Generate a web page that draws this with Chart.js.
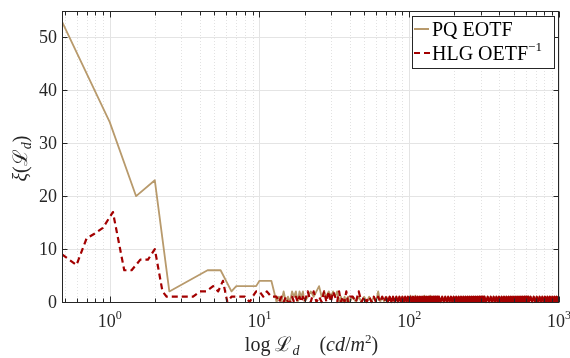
<!DOCTYPE html>
<html>
<head>
<meta charset="utf-8">
<script src="https://cdn.jsdelivr.net/npm/chart.js@4/dist/chart.umd.min.js"></script>
<style>
  html, body { margin: 0; padding: 0; background: #fff; }
</style>
</head>
<body>
<canvas id="xiChart" width="570" height="358"></canvas>
<script>
/* ---------- DATA ---------- */
const seriesNames = ["PQ EOTF", "HLG OETF"];

// low-luminance part
const pqX = [0.48, 1, 1.5, 2, 2.5, 4.5, 5.5, 6.5, 7, 9.5, 10, 12];
const pqY = [53, 34, 20, 23, 2, 6, 6, 2, 3, 3, 4, 4];

const hlgX = [0.48, 0.6, 0.7, 0.8, 0.9, 1.05, 1.25, 1.4, 1.6, 1.8, 2, 2.25, 2.4, 3, 3.6, 4, 4.4, 4.9, 5.3, 5.7, 6.1, 6.5, 7, 7.5, 8, 8.6, 9, 9.5, 10, 10.6, 11.2, 12];
const hlgY = [9, 7, 12, 13, 14, 17, 6, 6, 8, 8, 10, 2, 1, 1, 1, 2, 2, 3, 2, 4, 0, 1, 1, 1, 1, 0, 1, 2, 2, 1, 2, 1];

// high-luminance part: both curves flicker between 0 and 2
const noiseX = [
  12.5, 13, 13.5, 14, 14.5, 15, 15.5, 16, 16.5, 17, 17.5, 18, 18.5, 19, 19.5, 20,
  21, 22, 23, 24, 25, 26, 27, 28, 29, 30, 31, 32, 33, 34, 35, 36, 37, 38, 39, 40,
  42, 44, 46, 48, 50, 52, 54, 56, 58, 60, 62, 64, 66, 68, 70, 72, 74, 76, 78, 80,
  82, 84, 86, 88, 90, 92, 94, 96, 98, 100, 102, 104, 106, 108, 110, 112, 114, 116, 118, 120,
  122, 124, 126, 128, 130, 132, 134, 136, 138, 140, 142, 144, 146, 148, 150, 152, 154, 156, 158,
  162, 166, 170, 174, 178, 182, 186, 190, 194, 198, 202, 206, 210, 214, 218, 222, 226, 230, 234, 238,
  242, 246, 250, 254, 258, 262, 266, 270, 274, 278, 282, 286, 290, 294, 298, 302, 306, 310, 314, 318,
  326, 334, 342, 350, 358, 366, 374, 382, 390, 398, 406, 414, 422, 430, 438, 446, 454, 462, 470, 478,
  486, 494, 502, 510, 518, 526, 534, 542, 550, 558, 566, 574, 582, 590, 598, 606, 614, 622, 630,
  646, 662, 678, 694, 710, 726, 742, 758, 774, 790, 806, 822, 838, 854, 870, 886, 902, 918, 934, 950,
  966, 982, 998, 1000
];
const pqNoise = [
  2, 0, 1, 0, 2, 0, 1, 0, 2, 1, 2, 0, 2, 1, 2, 0,
  1, 2, 1, 2, 3, 1, 2, 1, 2, 1, 2, 1, 2, 0, 1, 0, 1, 0, 1, 0,
  1, 0, 1, 0, 1, 0, 1, 0, 1, 0, 2, 0, 1, 0, 1, 0, 1, 0, 1, 0,
  1, 0, 1, 0, 1, 0, 1, 0, 1, 0, 1.2, 0, 1, 0, 1.2, 0, 1, 0, 1, 0,
  1, 0, 1.2, 0, 1, 0, 1, 0, 1.2, 0, 1, 0, 1, 0, 1, 0, 1, 0, 1, 0,
  1, 0, 1, 0, 1, 0, 1, 0, 1, 0, 1, 0, 1, 0, 1, 0, 1, 0, 1, 0,
  1, 0, 1, 0, 1, 0, 1, 0, 1, 0, 1, 0, 1, 0, 1, 0, 1, 0, 1, 0,
  1, 0, 1, 0, 1, 0, 1, 0, 1, 0, 1, 0, 1, 0, 1, 0, 1, 0, 1, 0,
  1, 0, 1, 0, 1, 0, 1, 0, 1, 0, 1, 0, 1, 0, 1, 0, 1, 0, 1, 0,
  1, 0, 1, 0, 1, 0, 1, 0, 1, 0, 1, 0, 1, 0, 1, 0, 1, 0, 1, 0,
  1, 0
];
const hlgNoise = [
  1, 1, 0, 1, 0, 1, 0, 0, 1, 0, 1, 0, 1, 0, 1, 0,
  2, 0, 2, 0, 1, 0, 2, 0, 2, 0, 2, 1, 0, 2, 0, 1, 0, 2, 0, 1,
  1, 0, 2, 0, 1, 0, 1, 0, 1, 0, 1, 0, 1, 0, 1, 0, 1, 0, 1, 0,
  1, 0, 1, 0, 1, 0, 1, 0, 1, 0, 1, 0, 1, 0, 1, 0, 1, 0, 1, 0,
  1, 0, 1, 0, 1, 0, 1, 0, 1, 0, 1, 0, 1, 0, 1, 0, 1, 0, 1, 0,
  1, 0, 1, 0, 1, 0, 1, 0, 1, 0, 1, 0, 1, 0, 1, 0, 1, 0, 1, 0,
  1, 0, 1, 0, 1, 0, 1, 0, 1, 0, 1, 0, 1, 0, 1, 0, 1, 0, 1, 0,
  1, 0, 1, 0, 1, 0, 1, 0, 1, 0, 1, 0, 1, 0, 1, 0, 1, 0, 1, 0,
  1, 0, 1, 0, 1, 0, 1, 0, 1, 0, 1, 0, 1, 0, 1, 0, 1, 0, 1, 0,
  1, 0, 1, 0, 1, 0, 1, 0, 1, 0, 1, 0, 1, 0, 1, 0, 1, 0, 1, 0,
  1, 0
];

// ticks
const xMajorTicks = [1, 10, 100, 1000];
const xTickExponents = ["0", "1", "2", "3"];
const yTicks = [0, 10, 20, 30, 40, 50];

/* ---------- STYLE ---------- */
const PQ_COLOR = "#b89a6c";
const HLG_COLOR = "#a30000";
const AXIS_COLOR = "#262626";
const SERIF = "'Liberation Serif', 'DejaVu Serif', serif";
const HLG_DASH = [6, 4];

const toPoints = (xs, ys) => xs.map((x, i) => ({ x, y: ys[i] }));

const xMinorTicks = [];
[0.1, 1, 10, 100].forEach(d => {
    for (let m = 2; m <= 9; m++) xMinorTicks.push(d * m);
});

/* ---------- TEXT HELPERS ---------- */
// runs: [{t, f (font), dy}]
function runsWidth(ctx, runs) {
    return runs.reduce((w, r) => { ctx.font = r.f; return w + ctx.measureText(r.t).width; }, 0);
}
function drawRuns(ctx, runs, x, y) {
    runs.forEach(r => {
        ctx.font = r.f;
        ctx.fillText(r.t, x, y + (r.dy || 0));
        x += ctx.measureText(r.t).width;
    });
}

/* ---------- MATLAB-LIKE AXES ---------- */
const axesPlugin = {
    id: "matlabAxes",
    beforeDatasetsDraw(chart) {
        const { ctx, chartArea: a, scales: { x, y } } = chart;
        ctx.save();
        ctx.lineWidth = 1;

        // minor x grid (dotted)
        ctx.strokeStyle = "#e2e2e2";
        ctx.setLineDash([1, 2]);
        xMinorTicks.forEach(v => {
            if (v < x.min || v > x.max) return;
            const px = Math.round(x.getPixelForValue(v)) + 0.5;
            ctx.beginPath(); ctx.moveTo(px, a.top); ctx.lineTo(px, a.bottom); ctx.stroke();
        });
        ctx.setLineDash([]);

        // major grid
        ctx.strokeStyle = "#e4e4e4";
        xMajorTicks.forEach(v => {
            const px = Math.round(x.getPixelForValue(v)) + 0.5;
            ctx.beginPath(); ctx.moveTo(px, a.top); ctx.lineTo(px, a.bottom); ctx.stroke();
        });
        yTicks.forEach(v => {
            const py = Math.round(y.getPixelForValue(v)) + 0.5;
            ctx.beginPath(); ctx.moveTo(a.left, py); ctx.lineTo(a.right, py); ctx.stroke();
        });
        ctx.restore();
    },
    afterDatasetsDraw(chart) {
        const { ctx, chartArea: a, scales: { x, y } } = chart;
        ctx.save();
        ctx.strokeStyle = AXIS_COLOR;
        ctx.fillStyle = AXIS_COLOR;
        ctx.lineWidth = 1;

        // box
        const L = Math.round(a.left) + 0.5, R = Math.round(a.right) - 0.5;
        const T = Math.round(a.top) + 0.5, B = Math.round(a.bottom) + 0.5;
        ctx.strokeRect(L, T, R - L, B - T);

        // inward ticks
        ctx.beginPath();
        xMinorTicks.forEach(v => {
            if (v < x.min || v > x.max) return;
            const px = Math.round(x.getPixelForValue(v)) + 0.5;
            ctx.moveTo(px, B); ctx.lineTo(px, B - 4);
            ctx.moveTo(px, T); ctx.lineTo(px, T + 4);
        });
        xMajorTicks.forEach(v => {
            const px = Math.round(x.getPixelForValue(v)) + 0.5;
            ctx.moveTo(px, B); ctx.lineTo(px, B - 6);
            ctx.moveTo(px, T); ctx.lineTo(px, T + 6);
        });
        yTicks.forEach(v => {
            const py = Math.round(y.getPixelForValue(v)) + 0.5;
            ctx.moveTo(L, py); ctx.lineTo(L + 5, py);
            ctx.moveTo(R, py); ctx.lineTo(R - 5, py);
        });
        ctx.stroke();

        // y tick labels
        ctx.font = "18px " + SERIF;
        ctx.textAlign = "right";
        ctx.textBaseline = "middle";
        yTicks.forEach(v => ctx.fillText(String(v), a.left - 5, y.getPixelForValue(v) + 1));

        // x tick labels 10^n
        ctx.textAlign = "left";
        ctx.textBaseline = "alphabetic";
        xMajorTicks.forEach((v, i) => {
            const runs = [
                { t: "10", f: "18px " + SERIF },
                { t: xTickExponents[i], f: "12px " + SERIF, dy: -8 }
            ];
            const w = runsWidth(ctx, runs);
            drawRuns(ctx, runs, x.getPixelForValue(v) - w / 2, a.bottom + 25);
        });

        // x axis title
        const xTitle = [
            { t: "log ", f: "20px " + SERIF },
            { t: "ℒ", f: "20px " + SERIF },
            { t: "d", f: "italic 14px " + SERIF, dy: 4 },
            { t: "    (", f: "20px " + SERIF },
            { t: "cd", f: "italic 20px " + SERIF },
            { t: "/", f: "20px " + SERIF },
            { t: "m", f: "italic 20px " + SERIF },
            { t: "2", f: "13px " + SERIF, dy: -8 },
            { t: ")", f: "20px " + SERIF }
        ];
        const xw = runsWidth(ctx, xTitle);
        drawRuns(ctx, xTitle, (a.left + a.right) / 2 - xw / 2 + 1, 351);

        // y axis title (rotated)
        const yTitle = [
            { t: "ξ", f: "italic 20px " + SERIF },
            { t: "(", f: "20px " + SERIF },
            { t: "ℒ", f: "20px " + SERIF },
            { t: "d", f: "italic 14px " + SERIF, dy: 4 },
            { t: ")", f: "20px " + SERIF }
        ];
        const yw = runsWidth(ctx, yTitle);
        ctx.save();
        ctx.translate(27, (a.top + a.bottom) / 2 + 2);
        ctx.rotate(-Math.PI / 2);
        drawRuns(ctx, yTitle, -yw / 2, 0);
        ctx.restore();

        // legend
        const lx = 412.5, ly = 16.5, lw = 142, lh = 52;
        ctx.fillStyle = "#fff";
        ctx.fillRect(lx, ly, lw, lh);
        ctx.strokeStyle = AXIS_COLOR;
        ctx.strokeRect(lx, ly, lw, lh);

        ctx.lineWidth = 2;
        ctx.strokeStyle = PQ_COLOR;
        ctx.beginPath(); ctx.moveTo(414, 29); ctx.lineTo(429, 29); ctx.stroke();
        ctx.strokeStyle = HLG_COLOR;
        ctx.setLineDash(HLG_DASH);
        ctx.beginPath(); ctx.moveTo(414, 53); ctx.lineTo(431, 53); ctx.stroke();
        ctx.setLineDash([]);

        ctx.fillStyle = "#000";
        drawRuns(ctx, [{ t: seriesNames[0], f: "20px " + SERIF }], 432, 36);
        drawRuns(ctx, [
            { t: seriesNames[1], f: "20px " + SERIF },
            { t: "−1", f: "13px " + SERIF, dy: -9 }
        ], 432, 60);

        ctx.restore();
    }
};

/* ---------- CHART ---------- */
new Chart(document.getElementById("xiChart"), {
    type: "line",
    data: {
        datasets: [
            {
                label: seriesNames[0],
                data: toPoints(pqX.concat(noiseX), pqY.concat(pqNoise)),
                borderColor: PQ_COLOR,
                borderWidth: 1.8,
                borderJoinStyle: "round",
                pointRadius: 0,
                tension: 0,
                order: 2,
                clip: { left: 0, top: 0, right: 0, bottom: 3 }
            },
            {
                label: seriesNames[1],
                data: toPoints(hlgX.concat(noiseX), hlgY.concat(hlgNoise)),
                borderColor: HLG_COLOR,
                borderWidth: 2.2,
                borderJoinStyle: "round",
                borderDash: HLG_DASH,
                // the dense flicker merges into a solid band, as in the original
                segment: { borderDash: c => (c.p0.parsed.x >= 70 ? [] : HLG_DASH) },
                pointRadius: 0,
                tension: 0,
                order: 1,
                clip: { left: 0, top: 0, right: 0, bottom: 3 }
            }
        ]
    },
    options: {
        responsive: false,
        animation: false,
        layout: { padding: { left: 62, right: 11, top: 11, bottom: 56 } },
        plugins: { legend: { display: false }, tooltip: { enabled: false } },
        scales: {
            x: { type: "logarithmic", min: 0.48, max: 1000, display: false },
            y: { min: 0, max: 55, display: false }
        }
    },
    plugins: [axesPlugin]
});
</script>
</body>
</html>
